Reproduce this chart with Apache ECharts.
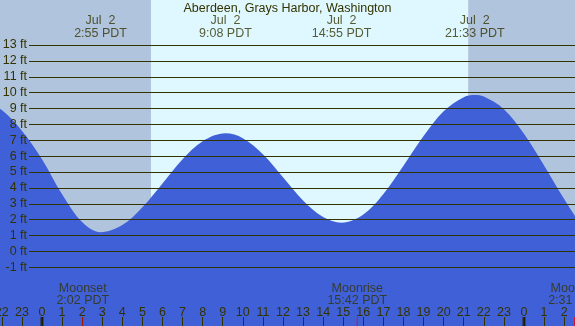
<!DOCTYPE html>
<html>
<head>
<meta charset="utf-8">
<script src="https://cdn.jsdelivr.net/npm/echarts@6/dist/echarts.min.js"></script>
<style>
html,body{margin:0;padding:0;background:#fff;}
#c{width:575px;height:326px;}
</style>
</head>
<body>
<div id="c"></div>
<script>
// ---- data (hours since midnight, Jul 2 PDT) ----
const titleText = 'Aberdeen, Grays Harbor, Washington';
const hourTicks = [-2,-1,0,1,2,3,4,5,6,7,8,9,10,11,12,13,14,15,16,17,18,19,20,21,22,23,24,25,26];
const feetTicks = [-1,0,1,2,3,4,5,6,7,8,9,10,11,12,13];
const tideHours = [-4,-3.3,-3,-2,-1,0,1,2,2.917,4,5,6,7,8,9.133,10,11,12,13,14,14.917,16,17,18,19,20,21,21.55,22,23,24,25,26,27,28];
const tideFeet  = [9.6,9.7,9.6,8.9,7.6,5.8,3.6,1.85,1.21,1.66,2.78,4.28,5.8,6.94,7.44,7.13,6.11,4.66,3.2,2.16,1.81,2.32,3.61,5.39,7.26,8.82,9.71,9.85,9.75,8.95,7.4,5.4,3.3,1.5,0.6];
const eventHours = [-3.283, 2.917, 9.133, 14.917, 21.55];
const eventLabels = ['Jul  1\n20:43 PDT','Jul  2\n2:55 PDT','Jul  2\n9:08 PDT','Jul  2\n14:55 PDT','Jul  2\n21:33 PDT'];
const sunrise = 5.43, sunset = 21.22;
const moonHours = [2.033, 15.7, 26.517];
const moonLabels = ['Moonset\n2:02 PDT','Moonrise\n15:42 PDT','Moonset\n2:31 PDT'];
const midnightHours = [0, 24];

// ---- layout ----
const X_MIN = -2.09, X_MAX = 26.54;
const Y_MIN = -4.70, Y_MAX = 15.83;
const EVENT_Y = 14.12, MOON_Y = -2.75, TICK_Y = -4.42;
const TXT = '#333300';
const FONT = 'Liberation Sans';
const FS = 12.5;

const chart = echarts.init(document.getElementById('c'), null, {renderer:'canvas'});
chart.setOption({
  animation:false,
  backgroundColor:'#ffffff',
  title:{text:titleText,left:'center',top:2,padding:0,
    textStyle:{fontSize:FS,fontWeight:'normal',color:TXT,fontFamily:FONT}},
  grid:[
    {left:0,right:0,top:0,bottom:0,outerBoundsMode:'none',containLabel:false},
    {left:29,right:0,top:45,bottom:58.7,outerBoundsMode:'none',containLabel:false}
  ],
  xAxis:[
    {type:'value',gridIndex:0,min:X_MIN,max:X_MAX,z:10,position:'bottom',
     axisLine:{show:false,onZero:false},splitLine:{show:false},
     axisTick:{show:true,inside:true,length:9,customValues:hourTicks,lineStyle:{color:TXT,width:1}},
     axisLabel:{show:true,inside:true,margin:6.5,customValues:hourTicks,
       formatter:v=>String(((Math.round(v)%24)+24)%24),
       color:TXT,fontSize:FS,fontFamily:FONT}},
    {type:'value',gridIndex:1,min:0,max:1,show:false,axisLine:{onZero:false}}
  ],
  yAxis:[
    {type:'value',gridIndex:0,min:Y_MIN,max:Y_MAX,show:false,axisLine:{onZero:false}},
    {type:'value',gridIndex:1,min:-1,max:13,interval:1,z:10,position:'left',
     axisLine:{show:false,onZero:false},axisTick:{show:false},
     axisLabel:{margin:2,formatter:v=>v+' ft',color:TXT,fontSize:FS,fontFamily:FONT},
     splitLine:{show:true,lineStyle:{color:TXT,width:1}}}
  ],
  series:[
    {type:'line',xAxisIndex:0,yAxisIndex:0,z:1,silent:true,
     data:[[X_MIN,0],[X_MAX,0]],showSymbol:false,lineStyle:{opacity:0},
     markArea:{silent:true,data:[
       [{xAxis:X_MIN,itemStyle:{color:'#B0C4DE'}},{xAxis:sunrise}],
       [{xAxis:sunrise,itemStyle:{color:'#DFF8FF'}},{xAxis:sunset}],
       [{xAxis:sunset,itemStyle:{color:'#B0C4DE'}},{xAxis:X_MAX}]
     ]}},
    {type:'line',xAxisIndex:0,yAxisIndex:0,z:2,
     data:tideHours.map((h,i)=>[h,tideFeet[i]]),
     smooth:0.35,showSymbol:false,
     lineStyle:{width:0},areaStyle:{color:'#4060D8',opacity:1,origin:'start'}},
    {type:'scatter',xAxisIndex:0,yAxisIndex:0,z:12,symbolSize:0,
     data:eventHours.map((h,i)=>({value:[h,EVENT_Y],name:eventLabels[i]})),
     label:{show:true,position:'inside',formatter:p=>p.name,color:TXT,fontSize:FS,
       fontFamily:FONT,lineHeight:12.5,align:'center'}},
    {type:'scatter',xAxisIndex:0,yAxisIndex:0,z:12,symbolSize:0,
     data:moonHours.map((h,i)=>({value:[h,MOON_Y],name:moonLabels[i]})),
     label:{show:true,position:'inside',formatter:p=>p.name,color:TXT,fontSize:FS,
       fontFamily:FONT,lineHeight:12,align:'center'}},
    {type:'scatter',xAxisIndex:0,yAxisIndex:0,z:13,symbol:'rect',symbolSize:[3,9],
     itemStyle:{color:'#1a1a00'},data:midnightHours.map(h=>[h,TICK_Y])},
    {type:'scatter',xAxisIndex:0,yAxisIndex:0,z:13,symbol:'rect',symbolSize:[1,9],
     itemStyle:{color:'#ff0000'},data:moonHours.map(h=>[h,TICK_Y])}
  ]
});
</script>
</body>
</html>
